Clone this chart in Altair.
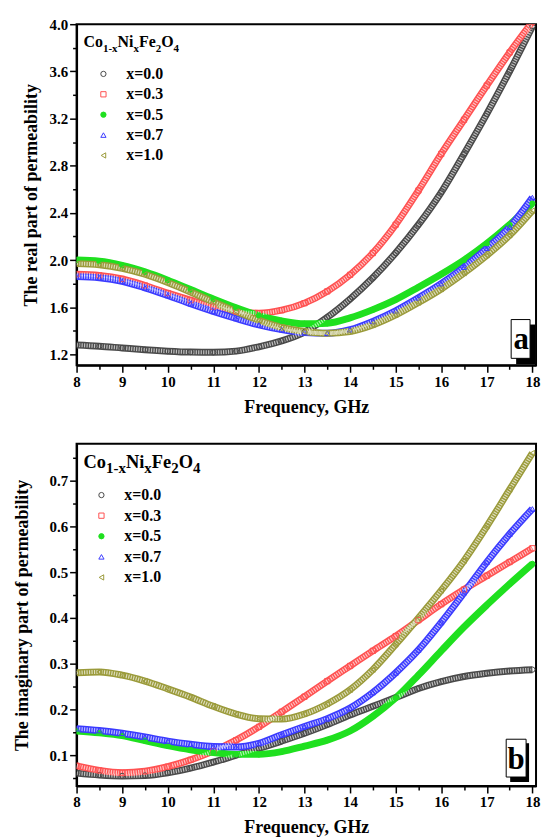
import altair as alt
import pandas as pd

# ---------------- data ----------------
freq = [8.0, 8.5, 9.0, 9.5, 10.0, 10.5, 11.0, 11.5, 12.0, 12.5, 13.0,
        13.5, 14.0, 14.5, 15.0, 15.5, 16.0, 16.5, 17.0, 17.5, 18.0]
series = ["x=0.0", "x=0.3", "x=0.5", "x=0.7", "x=1.0"]

# (a) real part of permeability
real_00 = [1.28, 1.27, 1.255, 1.24, 1.228, 1.22, 1.218, 1.228, 1.265, 1.315, 1.39,
           1.515, 1.67, 1.85, 2.06, 2.30, 2.575, 2.90, 3.24, 3.60, 3.98]
real_03 = [1.88, 1.87, 1.84, 1.785, 1.72, 1.66, 1.605, 1.565, 1.55, 1.575, 1.635,
           1.735, 1.875, 2.06, 2.30, 2.59, 2.90, 3.19, 3.48, 3.76, 4.02]
real_05 = [2.00, 1.99, 1.955, 1.90, 1.83, 1.75, 1.67, 1.595, 1.53, 1.485, 1.46,
           1.465, 1.51, 1.58, 1.665, 1.77, 1.88, 2.00, 2.14, 2.30, 2.48]
real_07 = [1.86, 1.85, 1.82, 1.765, 1.70, 1.63, 1.565, 1.505, 1.45, 1.41, 1.385,
           1.38, 1.41, 1.48, 1.57, 1.68, 1.80, 1.94, 2.10, 2.28, 2.53]
real_10 = [1.97, 1.96, 1.93, 1.88, 1.81, 1.73, 1.645, 1.565, 1.49, 1.43, 1.395,
           1.38, 1.395, 1.45, 1.535, 1.64, 1.755, 1.89, 2.04, 2.21, 2.42]

# (b) imaginary part of permeability
imag_00 = [0.061, 0.057, 0.055, 0.056, 0.062, 0.072, 0.085, 0.100, 0.115, 0.131, 0.148,
           0.167, 0.188, 0.207, 0.226, 0.246, 0.261, 0.272, 0.279, 0.284, 0.287]
imag_03 = [0.077, 0.067, 0.062, 0.065, 0.075, 0.090, 0.109, 0.133, 0.162, 0.195, 0.228,
           0.262, 0.295, 0.328, 0.360, 0.395, 0.430, 0.462, 0.492, 0.522, 0.552]
imag_05 = [0.153, 0.149, 0.143, 0.132, 0.121, 0.112, 0.106, 0.102, 0.102, 0.108, 0.120,
           0.133, 0.153, 0.185, 0.225, 0.275, 0.328, 0.380, 0.428, 0.474, 0.518]
imag_07 = [0.158, 0.154, 0.148, 0.140, 0.131, 0.124, 0.119, 0.118, 0.126, 0.145, 0.163,
           0.180, 0.203, 0.237, 0.280, 0.330, 0.390, 0.455, 0.522, 0.583, 0.638]
imag_10 = [0.280, 0.282, 0.275, 0.262, 0.245, 0.227, 0.207, 0.190, 0.180, 0.179, 0.190,
           0.212, 0.243, 0.287, 0.342, 0.400, 0.460, 0.525, 0.600, 0.680, 0.760]

x_ticks = [8, 8.5, 9, 9.5, 10, 10.5, 11, 11.5, 12, 12.5, 13, 13.5, 14, 14.5,
           15, 15.5, 16, 16.5, 17, 17.5, 18]
real_ticks = [1.2, 1.4, 1.6, 1.8, 2.0, 2.2, 2.4, 2.6, 2.8, 3.0, 3.2, 3.4, 3.6, 3.8, 4.0]
imag_ticks = [0.05, 0.1, 0.15, 0.2, 0.25, 0.3, 0.35, 0.4, 0.45, 0.5, 0.55, 0.6, 0.65, 0.7, 0.75]

colors = ["#4a4a4a", "#ff5252", "#1fe01f", "#3b3bff", "#9b9b3b"]
shapes = ["circle", "square", "circle", "triangle-up", "triangle-left"]
fills = ["transparent", "transparent", "#1fe01f", "transparent", "transparent"]

FONT = "Liberation Serif"
# formula Co(1-x)Ni(x)Fe(2)O(4): (text, is_subscript)
formula_parts = [("Co", False), ("1-x", True), ("Ni", False), ("x", True),
                 ("Fe", False), ("2", True), ("O", False), ("4", True)]
# approximate Times-Bold advance widths (em) used only to place the pieces side by side
EM = {"C": .722, "o": .5, "N": .722, "i": .278, "F": .611, "e": .444, "O": .778,
      "1": .5, "-": .333, "x": .5, "2": .5, "4": .5}


def long_table(tables):
    rows = []
    for s, vals in zip(series, tables):
        for f, v in zip(freq, vals):
            rows.append({"f": f, "v": v, "s": s})
    return pd.DataFrame(rows)


def formula_layers(x0, y0, main_size, sub_size, sub_drop):
    layers = []
    x = x0
    for txt, sub in formula_parts:
        size = sub_size if sub else main_size
        layers.append(
            alt.Chart(pd.DataFrame({"t": [txt]})).mark_text(
                font=FONT, fontSize=size, fontWeight="bold", color="black",
                align="left", baseline="alphabetic",
            ).encode(x=alt.value(x), y=alt.value(y0 + (sub_drop if sub else 0)), text="t:N")
        )
        x += sum(EM[c] for c in txt) * size
    return layers


def panel(df, ydom, yvals, ymajor, ytitle, ytitle_x, leg_y, sym_off, lab_off, row_pad,
          formula_pos, letter, box, shadow, letter_xy, height):
    xscale = alt.Scale(domain=[8, 18.08], nice=False, zero=False)
    yscale = alt.Scale(domain=ydom, nice=False, zero=False)
    xaxis = alt.Axis(
        values=x_ticks, title="Frequency, GHz", grid=False,
        labelExpr="datum.value % 1 === 0 ? format(datum.value, 'd') : ''",
        tickSize={"condition": {"test": "datum.value % 1 === 0", "value": 7}, "value": 4},
        labelPadding=2, labelFontSize=15, titleFontSize=18,
        titleY=47, titleBaseline="alphabetic", labelFlush=False,
    )
    yaxis = alt.Axis(
        values=yvals, title=ytitle, grid=False,
        labelExpr=f"({ymajor}) ? format(datum.value, '.1f') : ''",
        tickSize={"condition": {"test": ymajor, "value": 7}, "value": 4},
        labelPadding=2, labelFontSize=15, titleFontSize=18,
        titleX=ytitle_x, titleBaseline="middle", labelFlush=False,
    )
    X = alt.X("f:Q", scale=xscale, axis=xaxis)
    Y = alt.Y("v:Q", scale=yscale, axis=yaxis)
    leg = alt.Legend(
        orient="none", legendX=7, legendY=leg_y, title=None,
        labelFont=FONT, labelFontSize=16, labelFontWeight="bold",
        labelColor="black", symbolSize=28, symbolStrokeWidth=1,
        symbolOffset=sym_off, labelOffset=lab_off, rowPadding=row_pad, padding=0,
    )
    band = alt.Chart(df).mark_line(strokeWidth=7, interpolate="monotone", clip=True).encode(
        x=X, y=Y,
        color=alt.Color("s:N", scale=alt.Scale(range=colors), legend=None),
    )
    hatch = alt.Chart(df).transform_filter("datum.s !== 'x=0.5'").mark_line(
        strokeWidth=4, interpolate="monotone", clip=True, color="white",
        strokeDash=[1.2, 1.3], opacity=0.65,
    ).encode(x=X, y=Y, detail="s:N")
    pts = alt.Chart(df).mark_point(size=28, strokeWidth=1, opacity=1, clip=True).encode(
        x=X, y=Y,
        stroke=alt.Stroke("s:N", scale=alt.Scale(domain=series, range=colors), legend=leg),
        fill=alt.Fill("s:N", scale=alt.Scale(domain=series, range=fills), legend=leg),
        shape=alt.Shape("s:N", scale=alt.Scale(domain=series, range=shapes), legend=leg),
    )
    one = pd.DataFrame({"t": [letter]})
    shad = alt.Chart(one).mark_rect(fill="black").encode(
        x=alt.value(shadow[0]), x2=alt.value(shadow[1]),
        y=alt.value(shadow[2]), y2=alt.value(shadow[3]),
    )
    bx = alt.Chart(one).mark_rect(fill="white", stroke="black", strokeWidth=1).encode(
        x=alt.value(box[0]), x2=alt.value(box[1]),
        y=alt.value(box[2]), y2=alt.value(box[3]),
    )
    txt = alt.Chart(one).mark_text(font=FONT, fontSize=31, fontWeight="bold",
                                   align="center", baseline="alphabetic", color="black").encode(
        x=alt.value(letter_xy[0]), y=alt.value(letter_xy[1]), text="t:N",
    )
    layers = [band, hatch, pts, shad, bx, txt] + formula_layers(*formula_pos)
    return alt.layer(*layers).properties(width=462, height=height)


top = panel(
    long_table([real_00, real_03, real_05, real_07, real_10]),
    [1.108, 4.0], real_ticks, "round(datum.value*10) % 4 === 0",
    "The real part of permeability", -45, 42, 12, 15, 4.5,
    (7, 23, 16, 11, 4.5),
    "a", (437, 456, 297, 336), (442, 461, 302, 342), (447, 327), 343,
)
bottom = panel(
    long_table([imag_00, imag_03, imag_05, imag_07, imag_10]),
    [0.033, 0.78], imag_ticks, "round(datum.value*100) % 10 === 0",
    "The imaginary part of permeability", -54, 43.5, 10, 15, 4.7,
    (7, 24, 18.5, 15, 5),
    "b", (432, 452, 297, 335), (436, 455, 301, 340), (442, 327), 344,
)

chart = alt.vconcat(top, bottom, spacing=79, bounds="flush").resolve_scale(
    color="independent", stroke="independent", fill="independent", shape="independent",
    x="independent", y="independent",
).resolve_legend(
    stroke="independent", fill="independent", shape="independent",
).properties(
    padding={"left": 13, "top": 14, "right": 0, "bottom": 0},
    background="white",
).configure_view(
    stroke="black", strokeWidth=2,
).configure_axis(
    domainColor="black", domainWidth=2, tickColor="black", tickWidth=1.5,
    labelFont=FONT, labelFontWeight="bold", labelColor="black",
    titleFont=FONT, titleFontWeight="bold", titleColor="black",
)

chart.save("out.html", embed_options={"renderer": "svg", "actions": False})
